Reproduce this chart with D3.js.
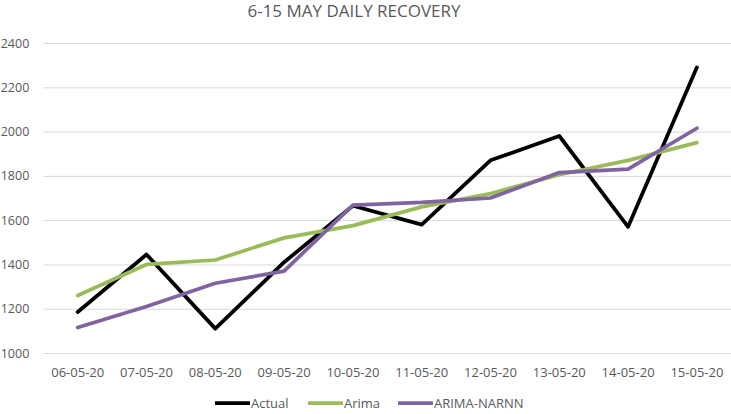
<!DOCTYPE html>
<html><head><meta charset="utf-8">
<script src="https://cdn.jsdelivr.net/npm/d3@7"></script>
<style>body{margin:0;background:#fff;} svg{display:block;}</style>
</head><body>
<svg id="c" width="731" height="414"></svg>
<script>
const categories = ["06-05-20","07-05-20","08-05-20","09-05-20","10-05-20","11-05-20","12-05-20","13-05-20","14-05-20","15-05-20"];
const actual = [1185,1445,1110,1410,1665,1580,1870,1980,1570,2290];
const arima = [1260,1400,1420,1520,1575,1660,1720,1805,1870,1950];
const arimaNarnn = [1115,1210,1315,1370,1668,1680,1700,1815,1830,2015];
const yTicks = [1000,1200,1400,1600,1800,2000,2200,2400];
const seriesNames = ["Actual","Arima","ARIMA-NARNN"];
const seriesColors = ["#000000","#9BBB59","#8064A2"];
const title = "6-15 MAY DAILY RECOVERY";

(function(){
const svg = d3.select("#c");
const font = "'Open Sans', sans-serif";
const mLeft = 43.3, mRight = 731.3, mTop = 43, mBottom = 353;
const x = d3.scaleBand().domain(categories).range([mLeft, mRight]);
const y = d3.scaleLinear().domain([1000,2400]).range([mBottom, mTop]);

svg.append("text").attr("x", 354).attr("y", 17).attr("text-anchor","middle")
  .attr("font-family", font).attr("font-size", 17).attr("fill","#595959").text(title);

const yAxis = svg.append("g").attr("transform", `translate(${mLeft},0)`)
  .call(d3.axisLeft(y).tickValues(yTicks).tickSize(-(mRight-mLeft)).tickPadding(14).tickFormat(d3.format("d")));
yAxis.select(".domain").remove();
yAxis.selectAll("line").attr("stroke","#d9d9d9").attr("stroke-width",1);
yAxis.selectAll("text").attr("font-family", font).attr("font-size", 12.5).attr("fill","#595959");

const xAxis = svg.append("g").attr("transform", `translate(0,${mBottom})`)
  .call(d3.axisBottom(x).tickSize(0).tickPadding(14.5));
xAxis.select(".domain").remove();
xAxis.selectAll("text").attr("font-family", font).attr("font-size", 13).attr("fill","#595959");

const allSeries = [actual, arima, arimaNarnn];
const line = d3.line().x((d,i)=>x(categories[i]) + x.bandwidth()/2).y(d=>y(d));
allSeries.forEach((s,k)=>{
  svg.append("path").datum(s).attr("d", line).attr("fill","none")
    .attr("stroke", seriesColors[k]).attr("stroke-width",3.75)
    .attr("stroke-linejoin","round").attr("stroke-linecap","round");
});

const legendX = [215, 308, 398];
const lg = svg.append("g");
seriesNames.forEach((n,k)=>{
  lg.append("line").attr("x1",legendX[k]).attr("x2",legendX[k]+35).attr("y1",403).attr("y2",403)
    .attr("stroke",seriesColors[k]).attr("stroke-width",3.75);
  lg.append("text").attr("x",legendX[k]+36).attr("y",407.8).attr("font-family",font)
    .attr("font-size",13).attr("fill","#595959").text(n);
});
})();
</script>
</body></html>
